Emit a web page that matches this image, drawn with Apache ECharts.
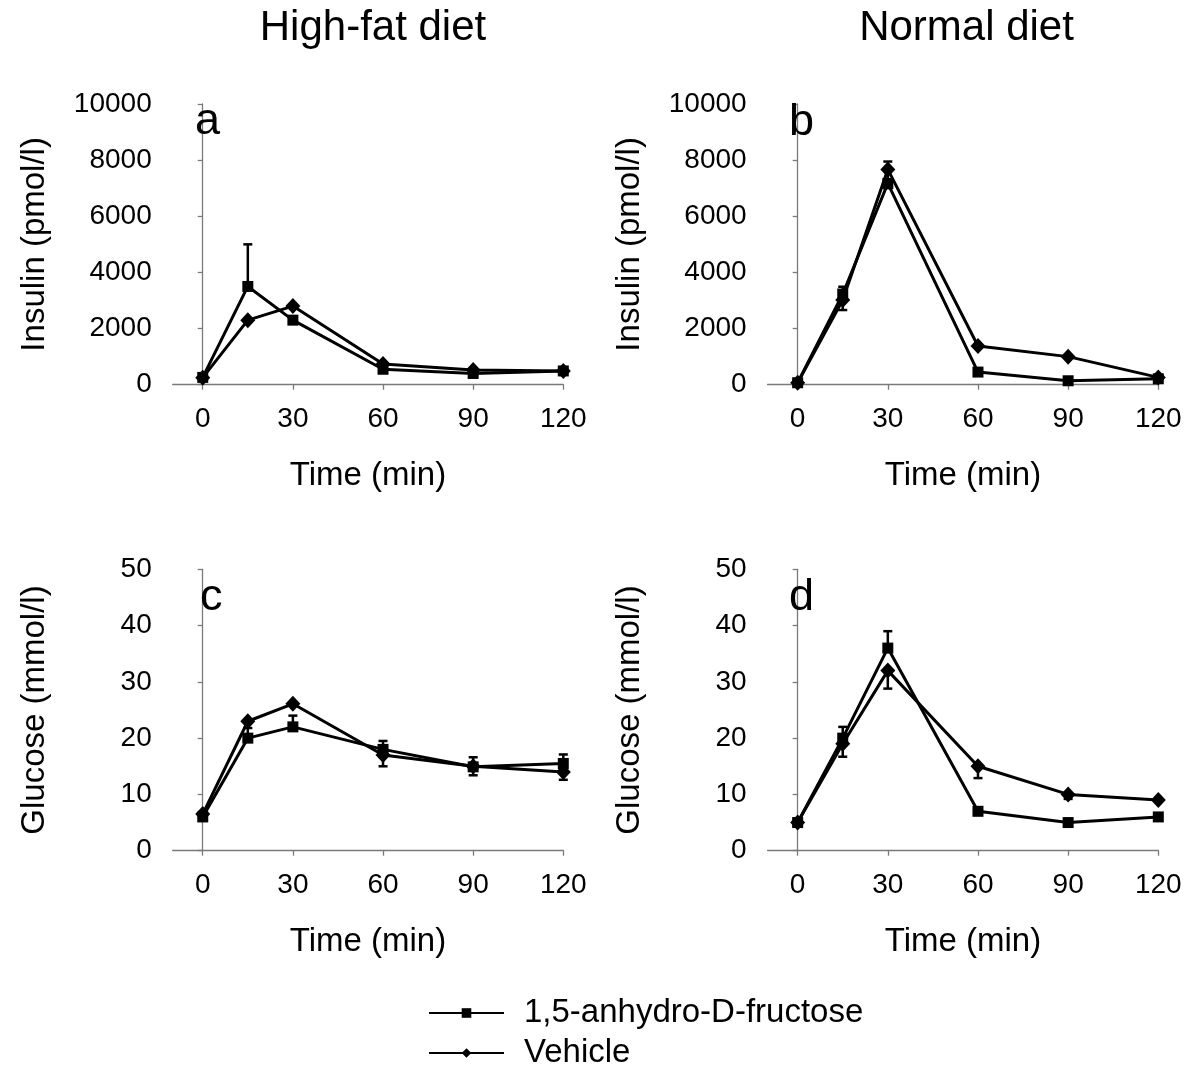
<!DOCTYPE html>
<html>
<head>
<meta charset="utf-8">
<script src="https://cdn.jsdelivr.net/npm/echarts@6/dist/echarts.min.js"></script>
<style>
html,body{margin:0;padding:0;background:#fff;}
#chart{width:1200px;height:1081px;}
</style>
</head>
<body>
<div id="chart"></div>
<script>
// ---- data ----
const times = [0, 15, 30, 60, 90, 120];
const xTicks = [0, 30, 60, 90, 120];

// a: insulin, high-fat diet
const insulinHF_AF = [260, 3500, 2300, 550, 400, 490];
const insulinHF_AF_err = [0, 1500, 0, 0, 0, 0];
const insulinHF_Veh = [250, 2300, 2800, 740, 520, 490];
const insulinHF_Veh_err = [0, 0, 0, 0, 0, 0];

// b: insulin, normal diet
const insulinND_AF = [70, 3230, 7170, 450, 140, 210];
const insulinND_AF_err = [0, 260, 780, 0, 0, 0];
const insulinND_Veh = [70, 3020, 7670, 1380, 1000, 260];
const insulinND_Veh_err = [0, 360, 670, 0, 0, 0];

// c: glucose, high-fat diet
const glucoseHF_AF = [6.0, 20.0, 22.0, 18.0, 14.9, 15.5];
const glucoseHF_AF_err = [0, 1.8, 2.0, 1.5, 1.7, 1.6];
const glucoseHF_Veh = [6.5, 23.0, 26.1, 17.0, 15.0, 14.0];
const glucoseHF_Veh_err = [0, 0, 0, 2.0, 1.6, 1.4];

// d: glucose, normal diet
const glucoseND_AF = [5.0, 20.0, 36.0, 7.0, 5.0, 6.0];
const glucoseND_AF_err = [0, 2.0, 3.0, 0, 0, 0];
const glucoseND_Veh = [5.0, 19.0, 32.0, 15.0, 10.0, 9.0];
const glucoseND_Veh_err = [0, 2.3, 3.2, 2.1, 0.8, 0];

const nameAF = '1,5-anhydro-D-fructose';
const nameVeh = 'Vehicle';

// ---- styling ----
const FONT = 'Liberation Sans, Arial, Helvetica, sans-serif';
const AXIS_GRAY = '#7a7a7a';

const grids = [
  {left: 172.7, top: 104, width: 390.6, height: 280.7},
  {left: 767.6, top: 104, width: 390.7, height: 280.7},
  {left: 172.7, top: 569.3, width: 390.6, height: 281.4},
  {left: 767.6, top: 569.3, width: 390.7, height: 281.4}
].map(g => Object.assign({outerBoundsMode: 'none', containLabel: false}, g));

function xAxisFor(i) {
  return {
    gridIndex: i, type: 'value', min: -10, max: 120,
    name: 'Time (min)', nameLocation: 'middle', nameGap: 75,
    nameTextStyle: {fontFamily: FONT, fontSize: 33, color: '#000'},
    axisLine: {show: true, onZero: false, lineStyle: {color: AXIS_GRAY, width: 1.3}},
    axisTick: {show: true, length: 5, lineStyle: {color: AXIS_GRAY, width: 1.3}, customValues: xTicks},
    axisLabel: {fontFamily: FONT, fontSize: 28, color: '#000', margin: 21, customValues: xTicks,
      formatter: v => String(v)},
    splitLine: {show: false}
  };
}
function yAxisFor(i, name, max, interval) {
  return {
    gridIndex: i, type: 'value', min: 0, max: max, interval: interval,
    name: name, nameLocation: 'middle', nameGap: 121,
    nameTextStyle: {fontFamily: FONT, fontSize: 33, color: '#000'},
    axisLine: {show: true, lineStyle: {color: AXIS_GRAY, width: 1.3}},
    axisTick: {show: true, length: 5, lineStyle: {color: AXIS_GRAY, width: 1.3}},
    axisLabel: {fontFamily: FONT, fontSize: 28, color: '#000', margin: 21,
      formatter: v => String(v)},
    splitLine: {show: false}
  };
}

function pts(vals) { return times.map((t, k) => [t, vals[k]]); }
function errPts(vals, errs) { return times.map((t, k) => [t, vals[k], errs[k]]); }

function lineSeries(i, name, vals, symbol, size) {
  return {
    type: 'line', name: name, xAxisIndex: i, yAxisIndex: i,
    data: pts(vals), symbol: symbol, symbolSize: size, showSymbol: true,
    lineStyle: {color: '#000', width: 3},
    itemStyle: {color: '#000'},
    z: 3, animation: false
  };
}
function errSeries(i, vals, errs, dir) {
  return {
    type: 'custom', xAxisIndex: i, yAxisIndex: i,
    data: errPts(vals, errs),
    encode: {x: 0, y: 1},
    z: 2, animation: false, silent: true,
    renderItem: function (params, api) {
      const x = api.value(0), y = api.value(1), e = api.value(2);
      if (!e) return null;
      const p0 = api.coord([x, y]);
      const p1 = api.coord([x, y + dir * e]);
      const hw = 4.5;
      return {
        type: 'group',
        children: [
          {type: 'line', shape: {x1: p0[0], y1: p0[1], x2: p1[0], y2: p1[1]}, style: {stroke: '#000', lineWidth: 2.5}},
          {type: 'line', shape: {x1: p1[0] - hw, y1: p1[1], x2: p1[0] + hw, y2: p1[1]}, style: {stroke: '#000', lineWidth: 2.5}}
        ]
      };
    }
  };
}

const panels = [
  {af: insulinHF_AF, afE: insulinHF_AF_err, veh: insulinHF_Veh, vehE: insulinHF_Veh_err},
  {af: insulinND_AF, afE: insulinND_AF_err, veh: insulinND_Veh, vehE: insulinND_Veh_err},
  {af: glucoseHF_AF, afE: glucoseHF_AF_err, veh: glucoseHF_Veh, vehE: glucoseHF_Veh_err},
  {af: glucoseND_AF, afE: glucoseND_AF_err, veh: glucoseND_Veh, vehE: glucoseND_Veh_err}
];

const series = [];
panels.forEach((p, i) => {
  series.push(errSeries(i, p.af, p.afE, 1));
  series.push(errSeries(i, p.veh, p.vehE, -1));
  series.push(lineSeries(i, nameAF, p.af, 'rect', 11));
  series.push(lineSeries(i, nameVeh, p.veh, 'diamond', [15, 16]));
});

function titleAt(text, left, top, size, align) {
  return {
    text: text, left: left, top: top, padding: 0, textAlign: align,
    textStyle: {fontFamily: FONT, fontSize: size, fontWeight: 'normal', color: '#000'}
  };
}

const option = {
  backgroundColor: '#fff',
  animation: false,
  title: [
    titleAt('High-fat diet', 373, 7.5, 42, 'center'),
    titleAt('Normal diet', 966.5, 7.5, 42, 'center'),
    titleAt('a', 195, 99, 45, 'left'),
    titleAt('b', 789, 100.5, 45, 'left'),
    titleAt('c', 200, 575.5, 45, 'left'),
    titleAt('d', 789, 575.5, 45, 'left')
  ],
  legend: {
    data: [nameAF, nameVeh],
    orient: 'vertical', left: 428, top: 996.5,
    itemWidth: 75, itemHeight: 12, itemGap: 7,
    padding: 0,
    textStyle: {fontFamily: FONT, fontSize: 33, color: '#000', padding: [0, 0, 0, 15]},
    selectedMode: false
  },
  grid: grids,
  xAxis: [0, 1, 2, 3].map(xAxisFor),
  yAxis: [
    yAxisFor(0, 'Insulin (pmol/l)', 10000, 2000),
    yAxisFor(1, 'Insulin (pmol/l)', 10000, 2000),
    yAxisFor(2, 'Glucose (mmol/l)', 50, 10),
    yAxisFor(3, 'Glucose (mmol/l)', 50, 10)
  ],
  series: series
};

const chart = echarts.init(document.getElementById('chart'), null, {renderer: 'canvas'});
chart.setOption(option);
</script>
</body>
</html>
